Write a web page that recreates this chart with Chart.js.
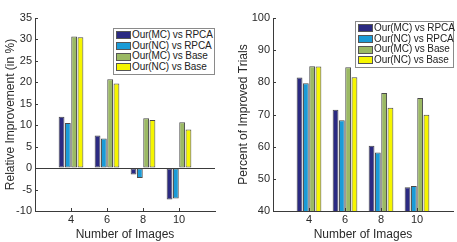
<!DOCTYPE html>
<html>
<head>
<meta charset="utf-8">
<script src="https://cdn.jsdelivr.net/npm/chart.js@4.4.1/dist/chart.umd.min.js"></script>
<style>
    html, body { margin: 0; padding: 0; background: #fff; overflow: hidden; }
    #wrap { position: relative; width: 457px; height: 242px; overflow: hidden; }
    .box { position: absolute; top: 0; height: 242px; }
    .legend {
        position: absolute;
        box-sizing: border-box;
        background: #fff;
        border: 1px solid #8a8a8a;
        padding: 1px 1px 1px 2px;
        font: 10px 'Liberation Sans', Arial, sans-serif;
        letter-spacing: -0.1px;
        color: #222;
        line-height: 10.7px;
        white-space: nowrap;
    }
    .legend .row { display: flex; align-items: center; }
    .legend .sw { width: 15px; height: 8px; border: 1px solid #555; box-sizing: border-box; margin-right: 1px; flex: none; }
</style>
</head>
<body>
<div id="wrap">
    <div class="box" style="left:0;width:228px;"><canvas id="leftChart"></canvas></div>
    <div class="box" style="left:228px;width:229px;"><canvas id="rightChart"></canvas></div>
    <div class="legend" id="leftLegend" style="left:113px;top:28px;width:102px;"></div>
    <div class="legend" id="rightLegend" style="left:355px;top:21px;width:99px;"></div>
</div>
<script>
// 系列名とカテゴリ
const seriesNames = ['Our(MC) vs RPCA', 'Our(NC) vs RPCA', 'Our(MC) vs Base', 'Our(NC) vs Base'];
const seriesColors = ['#2b2a82', '#1a9bd7', '#9bb964', '#f6f600'];
const imageCounts = [4, 6, 8, 10];

// 左: Relative Improvement (in %)
const relMcRpca = [12.0, 7.6, -1.5, -7.3];
const relNcRpca = [10.5, 6.9, -2.3, -7.1];
const relMcBase = [30.7, 20.7, 11.6, 10.7];
const relNcBase = [30.5, 19.7, 11.2, 9.0];
const relTicks = [-10, -5, 0, 5, 10, 15, 20, 25, 30, 35];

// 右: Percent of Improved Trials
const pctMcRpca = [81.5, 71.5, 60.3, 47.4];
const pctNcRpca = [79.7, 68.2, 58.2, 47.8];
const pctMcBase = [85.0, 84.7, 76.7, 75.1];
const pctNcBase = [84.9, 81.6, 72.1, 69.9];
const pctTicks = [40, 50, 60, 70, 80, 90, 100];

const FONT = "'Liberation Sans', Arial, sans-serif";
const AXIS_COLOR = '#3a3a3a';
const TEXT_COLOR = '#2a2a2a';

/**
 * データセットを作成する
 */
function buildDatasets(seriesList) {
    return seriesList.map((values, i) => ({
        label: seriesNames[i],
        data: values.map((v, j) => ({ x: imageCounts[j], y: v })),
        backgroundColor: seriesColors[i],
        borderColor: '#4a4a4a',
        borderWidth: 1,
        borderSkipped: false,
        categoryPercentage: 0.7,
        barPercentage: 0.92,
    }));
}

/**
 * 内向きの目盛り線を描くプラグイン（MATLAB風）
 */
const inwardTicks = {
    id: 'inwardTicks',
    afterDraw(chart) {
        const { ctx, chartArea, scales } = chart;
        ctx.save();
        ctx.strokeStyle = AXIS_COLOR;
        ctx.lineWidth = 1;
        scales.y.ticks.forEach((t) => {
            const y = Math.round(scales.y.getPixelForValue(t.value)) + 0.5;
            ctx.beginPath();
            ctx.moveTo(chartArea.left, y);
            ctx.lineTo(chartArea.left + 3, y);
            ctx.stroke();
        });
        scales.x.ticks.forEach((t) => {
            const x = Math.round(scales.x.getPixelForValue(t.value)) + 0.5;
            ctx.beginPath();
            ctx.moveTo(x, chartArea.bottom);
            ctx.lineTo(x, chartArea.bottom - 3);
            ctx.stroke();
        });
        ctx.restore();
    },
};

/**
 * 棒グラフを描画する
 */
function drawBarChart(canvasId, datasets, opts) {
    const ctx = document.getElementById(canvasId).getContext('2d');
    return new Chart(ctx, {
        type: 'bar',
        data: { datasets },
        options: {
            responsive: true,
            maintainAspectRatio: false,
            animation: false,
            layout: { padding: opts.padding },
            plugins: { legend: { display: false }, tooltip: { enabled: false } },
            scales: {
                x: {
                    type: 'linear',
                    min: 2,
                    max: 12,
                    offset: false,
                    afterBuildTicks: (s) => { s.ticks = imageCounts.map((v) => ({ value: v })); },
                    afterFit: (s) => { s.height = opts.xHeight; },
                    grid: { display: false, drawTicks: false },
                    border: { display: true, color: AXIS_COLOR, width: 1 },
                    ticks: { color: TEXT_COLOR, font: { family: FONT, size: 11 }, padding: 2, maxRotation: 0 },
                    title: {
                        display: true,
                        text: 'Number of Images',
                        color: TEXT_COLOR,
                        font: { family: FONT, size: 12 },
                        padding: { top: 0, bottom: 0 },
                    },
                },
                y: {
                    min: opts.yTicks[0],
                    max: opts.yTicks[opts.yTicks.length - 1],
                    afterBuildTicks: (s) => { s.ticks = opts.yTicks.map((v) => ({ value: v })); },
                    afterFit: (s) => { s.width = opts.yWidth; },
                    grid: {
                        drawTicks: false,
                        color: (c) => (c.tick && c.tick.value === 0 && opts.zeroLine ? AXIS_COLOR : 'rgba(0,0,0,0)'),
                    },
                    border: { display: true, color: AXIS_COLOR, width: 1 },
                    ticks: { color: TEXT_COLOR, font: { family: FONT, size: 11 }, padding: 3 },
                    title: {
                        display: true,
                        text: opts.yTitle,
                        color: TEXT_COLOR,
                        font: { family: FONT, size: 12 },
                        padding: { top: 0, bottom: 2 },
                    },
                },
            },
        },
        plugins: [inwardTicks],
    });
}

/**
 * 凡例をHTMLで描画する
 */
function drawLegend(elId) {
    const el = document.getElementById(elId);
    el.innerHTML = seriesNames
        .map((name, i) => `<div class="row"><span class="sw" style="background:${seriesColors[i]}"></span>${name}</div>`)
        .join('');
}

drawBarChart('leftChart', buildDatasets([relMcRpca, relNcRpca, relMcBase, relNcBase]), {
    yTicks: relTicks,
    yTitle: 'Relative Improvement (in %)',
    yWidth: 32,
    xHeight: 31,
    zeroLine: true,
    padding: { left: 3, right: 13, top: 18, bottom: 0 },
});
drawBarChart('rightChart', buildDatasets([pctMcRpca, pctNcRpca, pctMcBase, pctNcBase]), {
    yTicks: pctTicks,
    yTitle: 'Percent of Improved Trials',
    yWidth: 37,
    xHeight: 31,
    zeroLine: false,
    padding: { left: 8, right: 4, top: 18, bottom: 0 },
});
drawLegend('leftLegend');
drawLegend('rightLegend');
</script>
</body>
</html>
